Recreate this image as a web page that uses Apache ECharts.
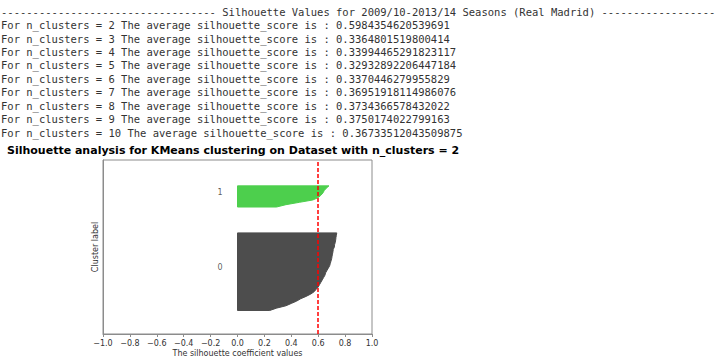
<!DOCTYPE html>
<html>
<head>
<meta charset="utf-8">
<script src="https://cdn.jsdelivr.net/npm/echarts@6/dist/echarts.min.js"></script>
<style>
  html, body { margin: 0; padding: 0; background: #ffffff; }
  #chart { width: 720px; height: 360px; }
</style>
</head>
<body>
<div id="chart"></div>
<script>
// ---- Printed output (text) ----
const headerTitle = 'Silhouette Values for 2009/10-2013/14 Seasons (Real Madrid)';
const nClusters = [2, 3, 4, 5, 6, 7, 8, 9, 10];
const avgScores = [
  '0.5984354620539691',
  '0.3364801519800414',
  '0.33994465291823117',
  '0.32932892206447184',
  '0.3370446279955829',
  '0.36951918114986076',
  '0.3734366578432022',
  '0.3750174022799163',
  '0.36733512043509875'
];
const chartTitle = 'Silhouette analysis for KMeans clustering on Dataset with n_clusters = 2';

// ---- Silhouette plot data (sorted ascending, per cluster) ----
const clusterLabels = ['0', '1'];
const cluster0Values = [0.24, 0.29, 0.36, 0.40, 0.44, 0.47, 0.51, 0.545, 0.57, 0.585,
  0.60, 0.61, 0.62, 0.63, 0.64, 0.65, 0.655, 0.665, 0.675, 0.685,
  0.69, 0.695, 0.70, 0.703, 0.706, 0.71, 0.712, 0.72, 0.722, 0.727,
  0.73, 0.732, 0.735, 0.738];
const cluster1Values = [0.29, 0.36, 0.46, 0.56, 0.60, 0.62, 0.635, 0.645, 0.66, 0.68];
const clusterColors = ['#4d4d4d', '#4dcf4d'];
const xTicks = { min: -1, max: 1, interval: 0.2 };
const clusterGap = 10;
const labelX = -0.13;

const clusterValues = [cluster0Values, cluster1Values];
const yLowers = [];
let yl = clusterGap;
clusterValues.forEach(v => { yLowers.push(yl); yl += v.length + clusterGap; });
const yMax = yl;
const avgScore = parseFloat(avgScores[0]);

// ---- text lines as graphic elements ----
const lines = ['-'.repeat(34) + ' ' + headerTitle + ' ' + '-'.repeat(18)];
nClusters.forEach((n, i) => {
  lines.push('For n_clusters = ' + n + ' The average silhouette_score is : ' + avgScores[i]);
});
const graphics = lines.map((t, i) => ({
  type: 'text',
  x: 1,
  y: 11.6 + 13.45 * i,
  silent: true,
  style: {
    text: t,
    fill: '#333333',
    font: '10.5px "DejaVu Sans Mono"',
    verticalAlign: 'middle',
    align: 'left'
  }
}));

function fmt(v) {
  const r = Math.round(v * 10) / 10;
  return (r < 0 ? '\u2212' : '') + Math.abs(r).toFixed(1);
}

const chart = echarts.init(document.getElementById('chart'), null, { renderer: 'svg' });
chart.setOption({
  animation: false,
  backgroundColor: '#ffffff',
  title: {
    text: chartTitle,
    left: 7,
    top: 144,
    padding: 0,
    textStyle: {
      fontFamily: 'DejaVu Sans',
      fontWeight: 'bold',
      fontSize: 11,
      color: '#000000',
      lineHeight: 13
    }
  },
  graphic: graphics,
  grid: {
    left: 103, right: 348, top: 160, bottom: 26,
    show: true,
    borderColor: '#8c8c8c',
    borderWidth: 1,
    backgroundColor: 'transparent'
  },
  xAxis: {
    type: 'value',
    min: xTicks.min, max: xTicks.max, interval: xTicks.interval,
    name: 'The silhouette coefficient values',
    nameLocation: 'middle',
    nameGap: 15,
    nameTextStyle: { fontFamily: 'DejaVu Sans', fontSize: 8, color: '#333333' },
    axisLine: { show: true, onZero: false, lineStyle: { color: '#8c8c8c', width: 1 } },
    axisTick: { show: true, length: 3, lineStyle: { color: '#8c8c8c', width: 1 } },
    axisLabel: { fontFamily: 'DejaVu Sans', fontSize: 8, color: '#333333', margin: 5, formatter: fmt },
    splitLine: { show: false }
  },
  yAxis: {
    type: 'value',
    min: 0, max: yMax,
    name: 'Cluster label',
    nameLocation: 'middle',
    nameRotate: 90,
    nameGap: 4,
    nameTextStyle: { fontFamily: 'DejaVu Sans', fontSize: 8, color: '#333333' },
    axisLine: { show: true, onZero: false, lineStyle: { color: '#8c8c8c', width: 1 } },
    axisTick: { show: false },
    axisLabel: { show: false },
    splitLine: { show: false }
  },
  series: [
    {
      type: 'custom',
      z: 2,
      data: yLowers.map(y => [0, y]),
      encode: { x: 0, y: 1 },
      renderItem: function (params, api) {
        const idx = params.dataIndex;
        const vals = clusterValues[idx];
        const base = yLowers[idx];
        const pts = [api.coord([0, base])];
        vals.forEach((v, i) => pts.push(api.coord([v, base + i])));
        pts.push(api.coord([0, base + vals.length - 1]));
        return {
          type: 'polygon',
          shape: { points: pts },
          style: { fill: clusterColors[idx], stroke: clusterColors[idx], lineWidth: 1 }
        };
      }
    },
    {
      type: 'scatter',
      z: 5,
      symbolSize: 0,
      silent: true,
      data: clusterValues.map((v, i) => [labelX, yLowers[i] + v.length / 2]),
      label: {
        show: true,
        position: 'inside',
        offset: [0, -3],
        fontFamily: 'DejaVu Sans',
        fontSize: 8,
        color: '#333333',
        formatter: p => clusterLabels[p.dataIndex]
      },
      markLine: {
        silent: true,
        symbol: ['none', 'none'],
        label: { show: false },
        lineStyle: { color: '#ff0000', width: 1.5, type: [4, 2] },
        data: [{ xAxis: avgScore }]
      }
    }
  ]
});
</script>
</body>
</html>
